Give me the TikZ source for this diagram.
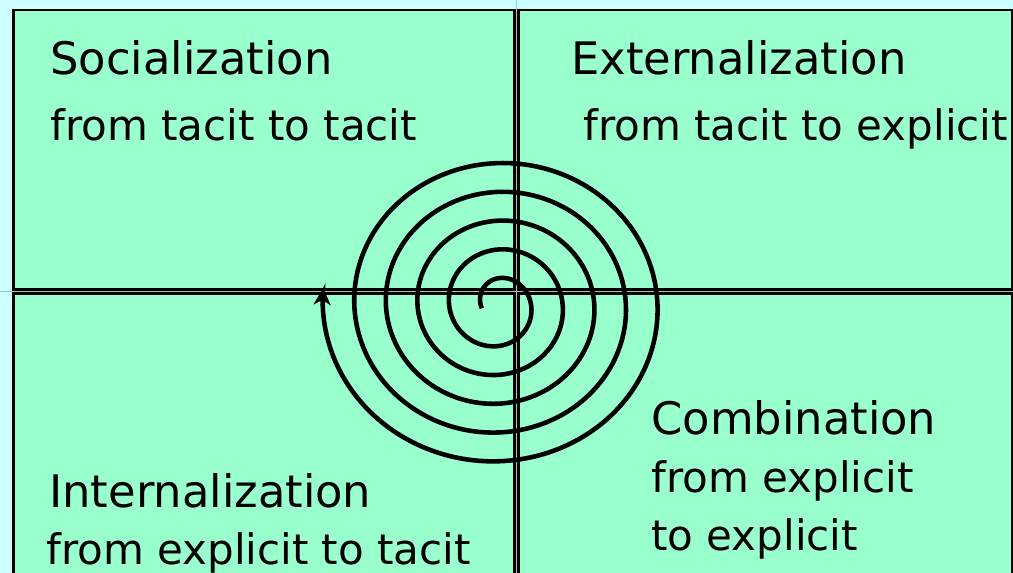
\documentclass[tikz,border=0pt]{standalone}
\usepackage{fontspec}
\setmainfont{DejaVu Sans}
\usetikzlibrary{arrows.meta}
\definecolor{mint}{HTML}{99FFCC}
\definecolor{paleaqua}{HTML}{CCFFFF}
\definecolor{gapgrey}{HTML}{A8C4C4}
\newcommand{\quadtitlefont}{\fontsize{25.5pt}{30pt}\selectfont}
\newcommand{\quadtextfont}{\fontsize{23.9pt}{32.7pt}\selectfont}
\begin{document}
\begin{tikzpicture}[x=0.02cm, y=-0.02cm,
		quad/.style={fill=mint, draw=black, line width=1.42pt},
		quadtitle/.style={anchor=base west, inner sep=0pt, font=\quadtitlefont},
		quadtext/.style={anchor=base west, inner sep=0pt, align=left, font=\quadtextfont},
		spiral/.style={line width=2.6pt, -{Stealth[length=0.34cm, width=0.34cm, inset=0.1cm]}},
	]
	\useasboundingbox (0,0) rectangle (1013,573);
	\clip (0,0) rectangle (1013,573);
	\fill[paleaqua] (0,0) rectangle (1013,573);
	\draw[gapgrey, line width=0.9pt] (516.6,0) -- (516.6,573);
	\draw[gapgrey, line width=0.9pt] (0,291.5) -- (1013,291.5);

	% four quadrants
	\draw[quad] (13.5,10) rectangle (514.6,289.5);
	\draw[quad] (518.6,10) rectangle (1011.8,289.5);
	\draw[quad] (13.5,293.5) rectangle (514.6,600);
	\draw[quad] (518.6,293.5) rectangle (1011.8,600);

	\node[quadtitle] (soc) at (50,75) {Socialization};
	\node[quadtext] (socsub) at (50,141) {from tacit to tacit};
	\node[quadtitle] (ext) at (571,75) {Externalization};
	\node[quadtext] (extsub) at (583,141) {from tacit to explicit};
	\node[quadtitle] (int) at (49,507.7) {Internalization};
	\node[quadtext] (intsub) at (46,564) {from explicit to tacit};
	\node[quadtitle] (comb) at (651,435) {Combination};
	\node[quadtext] (combsub) at (651,550) {from explicit\\to explicit};

	% knowledge spiral
	\draw[spiral] plot[domain=-10:1806, samples=450, smooth]
		({498-(17.3+7.9*\x/90)*cos(\x)}, {305-(19.5+7.2*\x/90)*sin(\x)});
\end{tikzpicture}
\end{document}
